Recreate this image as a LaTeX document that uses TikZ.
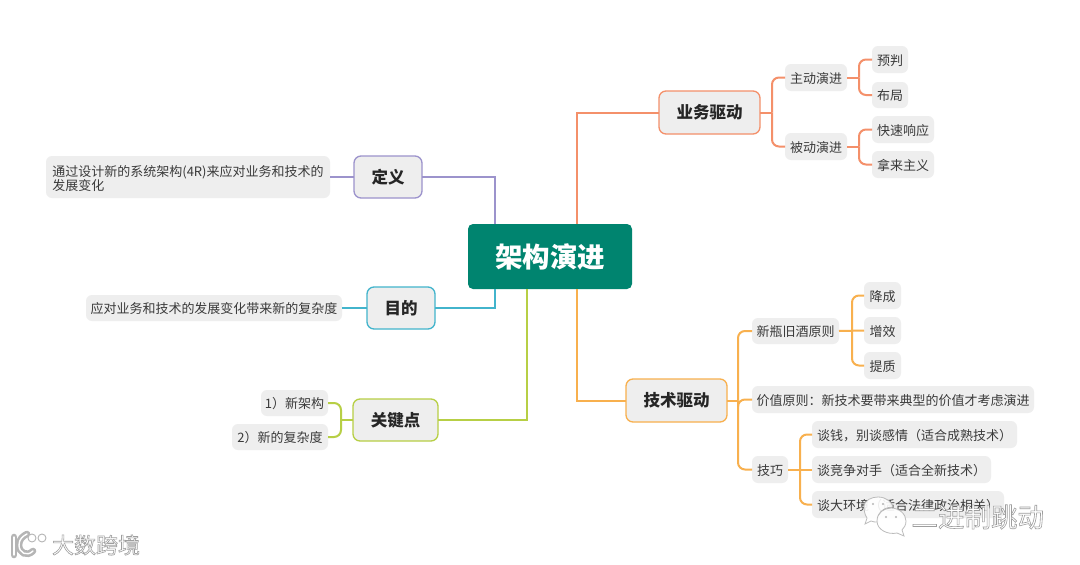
\documentclass[tikz,border=0pt]{standalone}
\usepackage{fontspec}
\setmainfont{Noto Sans CJK SC}
\definecolor{cpurple}{HTML}{9C93CC}
\definecolor{cteal}{HTML}{42B4CC}
\definecolor{clime}{HTML}{B7CF45}
\definecolor{cred}{HTML}{F4906A}
\definecolor{corange}{HTML}{F8B04E}
\definecolor{boxfill}{HTML}{EEEEEE}
\definecolor{ink}{HTML}{3A3A3A}
\definecolor{rootfill}{HTML}{00846F}
\definecolor{wmgrey}{HTML}{B5B5B5}
\tikzset{
  every node/.style={inner sep=0pt,outer sep=0pt},
  rootbox/.style={fill=rootfill,rounded corners=5pt,text=white,font=\fontsize{27.5}{30}\selectfont\bfseries},
  mainbox/.style={fill=boxfill,draw=#1,line width=1.3pt,rounded corners=7pt,text=black!85,font=\fontsize{16.5}{20}\selectfont\bfseries},
  leafbox/.style={fill=boxfill,rounded corners=6pt,text=ink,font=\fontsize{13}{15.5}\selectfont},
  link/.style={draw=#1,line width=2pt},
  curved/.style={draw=#1,line width=2pt,rounded corners=7pt},
  shell/.style={draw=wmgrey,line width=0.8pt,fill=white,opacity=.9},
  stroke/.style={draw=wmgrey,line width=2.6pt,double=white,double distance=1.4pt,line cap=round}
}
\newcommand{\bx}[7]{\node[#1,minimum width={(#5-#3)*1pt},minimum height={(#6-#4)*1pt}] (#2) at ({(#3+#5)/2},{(#4+#6)/2}) {#7};}
\newcommand{\lx}[6]{\bx{leafbox}{#1}{#2}{#3}{#4}{#5}{\raisebox{-1pt}[\height][\depth]{#6}}}
\newcommand{\branchR}[4]{\draw[link=#1] (#2.east) -- ++(#4pt,0);\draw[curved=#1] ([xshift=#4pt]#2.east) |- (#3.west);}
\newcommand{\branchL}[4]{\draw[link=#1] (#2.west) -- ++(-#4pt,0);\draw[curved=#1] ([xshift=-#4pt]#2.west) |- (#3.east);}
\newcommand{\outlined}[1]{\special{pdf:code 0.62 G 1 g 2 Tr 0.6 w}#1\special{pdf:code 0 Tr}}
\begin{document}
\begin{tikzpicture}[x=1pt,y=-1pt]
\useasboundingbox[fill=white] (0,0) rectangle (1080,565);
% nodes
\bx{rootbox}{root}{468}{224}{632}{289}{架构演进}
\bx{mainbox=cpurple}{def}{354}{156}{422}{198}{定义}
\bx{mainbox=cteal}{goal}{367}{287}{435}{329}{目的}
\bx{mainbox=clime}{key}{353}{399}{438}{441}{关键点}
\bx{mainbox=cred}{biz}{659}{91}{760}{134}{业务驱动}
\bx{mainbox=corange}{tech}{626}{379}{727}{422}{技术驱动}
\bx{leafbox}{deft}{46}{156}{330}{198}{\raisebox{-3pt}[\height][\depth]{\begin{tabular}{@{}l@{}}通过设计新的系统架构(4R)来应对业务和技术的\\[-2pt]发展变化\end{tabular}}}
\lx{goalt}{86}{295}{342}{321}{应对业务和技术的发展变化带来新的复杂度}
\lx{k1}{261}{390}{328}{416}{1）新架构}
\lx{k2}{232}{424}{328}{450}{2）新的复杂度}
\lx{a}{785}{64}{847}{91}{主动演进}
\lx{a1}{872}{46}{908}{73}{预判}
\lx{a2}{872}{82}{908}{108}{布局}
\lx{b}{785}{133}{847}{160}{被动演进}
\lx{b1}{872}{116}{934}{143}{快速响应}
\lx{b2}{872}{151}{934}{178}{拿来主义}
\lx{c}{752}{318}{839}{344}{新瓶旧酒原则}
\lx{c1}{864}{282}{901}{309}{降成}
\lx{c2}{864}{317}{901}{344}{增效}
\lx{c3}{864}{352}{901}{379}{提质}
\lx{d}{752}{386}{1034}{413}{价值原则：新技术要带来典型的价值才考虑演进}
\lx{e}{752}{456}{788}{483}{技巧}
\lx{e1}{812}{421}{1017}{448}{谈钱，别谈感情（适合成熟技术）}
\lx{e2}{812}{456}{991}{483}{谈竞争对手（适合全新技术）}
\lx{e3}{812}{491}{1004}{518}{谈大环境（适合法律政治相关）}
% connectors from the root
\draw[link=cpurple] ([xshift=27pt]root.north west) |- (def.east);
\draw[link=cteal] ([xshift=27pt]root.south west) |- (goal.east);
\draw[link=clime] ([xshift=59pt]root.south west) |- (key.east);
\draw[link=cred] ([xshift=109pt]root.north west) |- (biz.west);
\draw[link=corange] ([xshift=109pt]root.south west) |- (tech.west);
\draw[link=cpurple] (def.west) -- (deft.east);
\draw[link=cteal] (goal.west) -- (goalt.east);
\branchL{clime}{key}{k1}{12}
\branchL{clime}{key}{k2}{12}
\branchR{cred}{biz}{a}{12}
\branchR{cred}{biz}{b}{12}
\branchR{cred}{a}{a1}{12}
\branchR{cred}{a}{a2}{12}
\branchR{cred}{b}{b1}{12}
\branchR{cred}{b}{b2}{12}
\branchR{corange}{tech}{c}{11}
\branchR{corange}{tech}{d}{11}
\branchR{corange}{tech}{e}{11}
\branchR{corange}{c}{c1}{13}
\draw[link=corange] (c.east) -- (c2.west);
\branchR{corange}{c}{c3}{13}
\branchR{corange}{e}{e1}{12}
\draw[link=corange] (e.east) -- (e2.west);
\branchR{corange}{e}{e3}{12}
% watermark, bottom right
\draw[shell] (864,507) .. controls (864,500) and (872,497) .. (878,497) .. controls (886,497) and (892,502) .. (893,507) .. controls (883,507) and (876,514) .. (878,522) .. controls (875,522) and (873,522) .. (871,521) -- (865,524) -- (867,518) .. controls (865,515) and (864,511) .. (864,507) -- cycle;
\draw[shell] (877,521) .. controls (877,513) and (884,508) .. (891,508) .. controls (899,508) and (906,514) .. (906,521) .. controls (906,525) and (904,528) .. (902,530) -- (904,536) -- (897,533) .. controls (888,535) and (877,530) .. (877,521) -- cycle;
\fill[wmgrey] (873,504) circle (1.2) (883,504) circle (1.2) (886,517) circle (1.1) (896,517) circle (1.1);
\node[font=\fontsize{26.5}{30}\selectfont,anchor=east] (wm2) at (1044,517) {\outlined{二进制跳动}};
% watermark, bottom left
\draw[stroke] (14,537) -- (14,555);
\draw[stroke] (33,551) .. controls (27,557) and (19,553) .. (19,545) .. controls (19,539) and (23,536) .. (27,534);
\draw[draw=wmgrey,line width=0.9pt,fill=white] (32,538) circle (4) (42,538) circle (4);
\node[font=\fontsize{22}{24}\selectfont,anchor=west] (wm1) at (52,545) {\outlined{大数跨境}};
\end{tikzpicture}
\end{document}
